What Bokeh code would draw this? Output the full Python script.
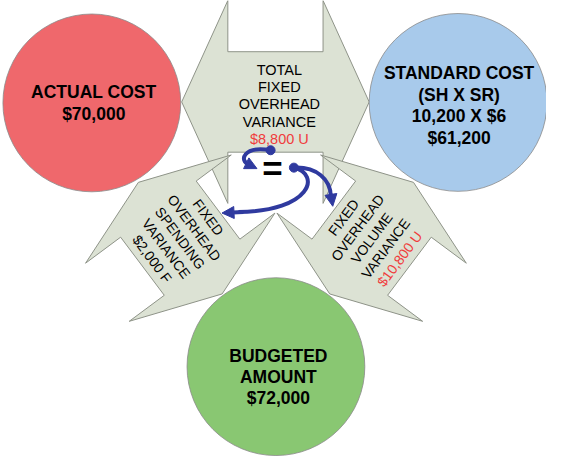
import math
from bokeh.plotting import figure
from bokeh.models import Range1d, Arrow, NormalHead
from bokeh.core.properties import value
from bokeh.embed import file_html
from bokeh.resources import INLINE

# ---- content ----
actual_lines = ["ACTUAL COST", "$70,000"]
standard_lines = ["STANDARD COST", "(SH X SR)", "10,200 X $6", "$61,200"]
budget_lines = ["BUDGETED", "AMOUNT", "$72,000"]
total_lines = ["TOTAL", "FIXED", "OVERHEAD", "VARIANCE", "$8,800 U"]
spending_lines = ["FIXED", "OVERHEAD", "SPENDING", "VARIANCE", "$2,000 F"]
volume_lines = ["FIXED", "OVERHEAD", "VOLUME", "VARIANCE", "$10,800 U"]
line_colors_total = ["black", "black", "black", "black", "#F03C3C"]
line_colors_spending = ["black"] * 5
line_colors_volume = ["black", "black", "black", "black", "#F03C3C"]

# ---- layout (reference pixel coordinates, y downward) ----
FONT = value("Liberation Sans")
SHAPE_FILL = "#DCE2D4"
SHAPE_LINE = "#8E9388"
BLUE = "#2F3A9F"

p = figure(width=546, height=456, x_range=Range1d(0, 562), y_range=Range1d(472, 0),
           output_backend="svg", toolbar_location=None, min_border=0,
           x_axis_type=None, y_axis_type=None, outline_line_color=None,
           background_fill_color="white", border_fill_color="white")


def notched_hex(cx, cy, ux, uy, L, W, n, d):
    vx, vy = -uy, ux
    local = [(L, -n), (L - d, -n), (L - d, n), (L, n), (0, W),
             (-L, n), (-L + d, n), (-L + d, -n), (-L, -n), (0, -W)]
    xs = [cx + a * ux + b * vx for a, b in local]
    ys = [cy + a * uy + b * vy for a, b in local]
    return xs, ys


shapes = [
    notched_hex(283, 105, 0, -1, 105, 96.5, 49, 53),
    notched_hex(185, 246, 0.802, -0.599, 93.5, 72, 37.5, 45),
    notched_hex(382, 246, -0.802, -0.599, 93.5, 72, 37.5, 45),
]
p.patches([s[0] for s in shapes], [s[1] for s in shapes],
          fill_color=SHAPE_FILL, line_color=SHAPE_LINE, line_width=1)

# circles
p.circle(x=[94, 471, 283.5], y=[106, 105.5, 379], radius=91.5,
         fill_color=["#EF686C", "#A8CAEB", "#89C772"], line_color="#8A8A8A", line_width=0.8)


def stack(lines, x, y0, dy, size, bold, colors=None):
    ys = [y0 + i * dy for i in range(len(lines))]
    p.text(x=[x] * len(lines), y=ys, text=lines, text_font=FONT,
           text_font_size=size, text_font_style="bold" if bold else "normal",
           text_align="center", text_baseline="middle",
           text_color=colors if colors else "black")


stack(actual_lines, 96, 95, 22, "17.5px", True)
stack(standard_lines, 472, 75, 22.3, "17.5px", True)
stack(budget_lines, 286, 368, 21.5, "17.5px", True)
stack(total_lines, 287, 71.5, 18, "14.5px", False, line_colors_total)


def rotated_stack(lines, cx, cy, ang, dy):
    tx, ty = math.cos(ang), math.sin(ang)
    px, py = -ty, tx
    k0 = (len(lines) - 1) / 2
    xs = [cx + (i - k0) * dy * px for i in range(len(lines))]
    ys = [cy + (i - k0) * dy * py for i in range(len(lines))]
    return xs, ys


a = math.radians(53.3)
xs, ys = rotated_stack(spending_lines, 185, 246, a, 18)
p.text(x=xs, y=ys, text=spending_lines, angle=-a, text_font=FONT, text_font_size="14px",
       text_align="center", text_baseline="middle", text_color=line_colors_spending)
xs, ys = rotated_stack(volume_lines, 382, 246, math.pi - a, -18)
p.text(x=xs, y=ys, text=volume_lines, angle=a, text_font=FONT, text_font_size="14px",
       text_align="center", text_baseline="middle", text_color=line_colors_volume)

# equals sign
p.text(x=[280], y=[174], text=["="], text_font=FONT, text_font_size="35px",
       text_font_style="bold", text_align="center", text_baseline="middle")

# blue curved arrows
p.bezier(x0=[278, 302, 302], y0=[155, 173, 173], x1=[256, 245, 340], y1=[170, 219, 203],
         cx0=[250, 330, 325], cy0=[150, 180, 172], cx1=[245, 320, 340], cy1=[166, 218, 185],
         line_color=BLUE, line_width=4)
p.scatter(x=[278, 302], y=[155, 173], size=9, fill_color=BLUE, line_color=BLUE)
for (xs0, ys0, xe, ye) in [(254, 169, 264, 174), (250, 219, 228, 220), (340, 200, 342, 213)]:
    p.add_layout(Arrow(end=NormalHead(size=12, fill_color=BLUE, line_color=BLUE),
                       x_start=xs0, y_start=ys0, x_end=xe, y_end=ye,
                       line_color=BLUE, line_width=4))

open("out.html", "w").write(file_html(p, INLINE))
